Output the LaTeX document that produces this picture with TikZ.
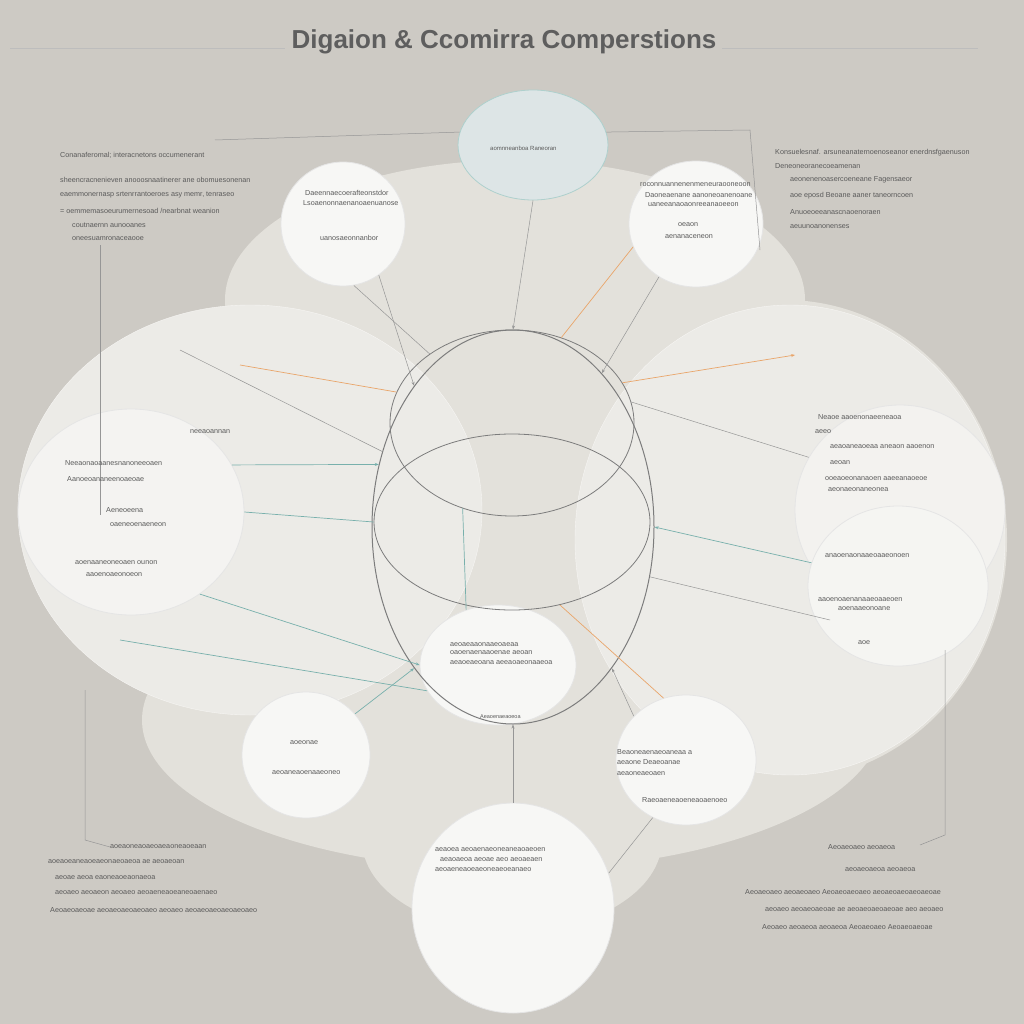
\documentclass[tikz,border=0pt]{standalone}
\usepackage{fontspec}
\setmainfont{Liberation Sans}
\usetikzlibrary{shapes.geometric,arrows.meta}
\definecolor{bg}{HTML}{CDCAC4}
\definecolor{blob}{HTML}{E3E1DB}
\definecolor{blobhi}{HTML}{ECEBE7}
\definecolor{discfill}{HTML}{F7F7F5}
\definecolor{ink}{HTML}{5A5A5A}
\definecolor{titleink}{HTML}{5E5E5E}
\definecolor{wire}{HTML}{7C7C7C}
\definecolor{tealc}{HTML}{78B0AC}
\definecolor{orng}{HTML}{E9A56A}
\definecolor{topdisc}{HTML}{DDE5E6}
\begin{document}
\begin{tikzpicture}[x=1pt,y=-1pt,
  disc/.style={ellipse, draw=white!80!gray, line width=0.8pt, fill=discfill, inner sep=0},
  lbl/.style={font=\fontsize{7.2}{8}\selectfont, text=ink, inner sep=0, anchor=west},
  con/.style={draw=wire!80, line width=0.5pt},
  tcon/.style={draw=tealc, line width=0.7pt},
  ocon/.style={draw=orng, line width=0.7pt},
  ring/.style={ellipse, draw=wire, line width=1pt, inner sep=0},
  tip/.style={-{Stealth[length=4pt,width=3pt]}}]
\useasboundingbox (0,0) rectangle (1024,1024);
\fill[bg] (0,0) rectangle (1024,1024);

% blob
\fill[blob] (515,300) ellipse [x radius=290, y radius=140];
\fill[blob] (512,500) ellipse [x radius=330, y radius=250];
\fill[blob] (512,720) ellipse [x radius=370, y radius=150];
\fill[blob] (512,840) ellipse [x radius=150, y radius=92];
\fill[blob] (785,540) ellipse [x radius=222, y radius=240];
\fill[blobhi, draw=white!70!blob] (250,510) ellipse [x radius=232, y radius=205];
\fill[blobhi, draw=white!70!blob] (790,540) ellipse [x radius=215, y radius=235];

% title
\node[font=\fontsize{26}{28}\selectfont\bfseries, text=titleink, inner sep=0] (title) at (504,42) {Digaion \& Ccomirra Comperstions};
\coordinate (tl1) at (10,48); \coordinate (tl2) at (285,48);
\coordinate (tr1) at (722,48); \coordinate (tr2) at (978,48);
\draw[con, draw=wire!50] (tl1) -- (tl2);
\draw[con, draw=wire!50] (tr1) -- (tr2);

% discs
\node[disc, fill=topdisc, draw=tealc!60] (dTC) at (533,145) [minimum width=150, minimum height=110] {};
\node[disc] (dTL) at (343,224) [minimum width=124, minimum height=124] {};
\node[disc] (dTR) at (696,224) [minimum width=134, minimum height=126] {};
\node[disc, fill=discfill!70!blobhi] (dL) at (131,512) [minimum width=226, minimum height=206] {};
\node[disc, fill=discfill!60!blobhi] (dR1) at (900,510) [minimum width=210, minimum height=210] {};
\node[disc, fill=discfill!80!blobhi] (dR2) at (898,586) [minimum width=180, minimum height=160] {};
\node[disc] (dCB) at (498,665) [minimum width=156, minimum height=120] {};
\node[disc] (dBL) at (306,755) [minimum width=128, minimum height=126] {};
\node[disc] (dBR) at (686,760) [minimum width=140, minimum height=130] {};
\node[disc] (dB) at (513,908) [minimum width=202, minimum height=210] {};

% core rings
\node[ring] (core) at (513,527) [minimum width=282, minimum height=394] {};
\node[ring, line width=0.8pt] (ringA) at (512,423) [minimum width=244, minimum height=186] {};
\node[ring, line width=0.8pt] (ringB) at (512,522) [minimum width=276, minimum height=176] {};

% free points
\coordinate (o1) at (240,365);
\coordinate (o2) at (795,355);
\coordinate (w1) at (180,350);
\coordinate (w2) at (120,640);
\coordinate (w3) at (830,620);
\coordinate (b1) at (215,140);
\coordinate (b2) at (750,130);
\coordinate (b3) at (760,250);
\coordinate (v1) at (100,245);
\coordinate (v2) at (100,515);
\coordinate (v3) at (85,690);
\coordinate (v4) at (85,840);
\coordinate (v5) at (110,847);
\coordinate (v6) at (945,650);
\coordinate (v7) at (945,835);
\coordinate (v8) at (920,845);

% connectors
\draw[con, tip] (dTL.-55) -- (core.125);
\draw[con] (dTL.-80) -- (ringA.140);
\draw[con, tip] (dTC.south) -- (core.north);
\draw[con, tip] (dTR.-125) -- (core.60);
\draw[tcon, tip] (dL.25) -- (core.155);
\draw[tcon] (dL.east) -- (ringB.180);
\draw[tcon, tip] (dL.-50) -- (dCB.west);
\draw[ocon] (o1) -- (ringA.165);
\draw[ocon, tip] (ringA.20) -- (o2);
\draw[con] (w1) -- (core.150);
\draw[tcon] (w2) -- (dCB.200);
\draw[tcon, tip] (dR2.165) -- (core.east);
\draw[con] (dR1.150) -- (ringA.10);
\draw[con] (w3) -- (core.-20);
\draw[tcon, tip] (dBL.40) -- (core.-125);
\draw[con, tip] (dBR.140) -- (core.-55);
\draw[con, tip] (dB.north) -- (core.south);
\draw[con] (dB.20) -- (dBR.-120);
\draw[con] (b1) -- (dTC.170);
\draw[con] (dTC.10) -- (b2) -- (b3);
\draw[con] (v1) -- (v2);
\draw[con] (v3) -- (v4) -- (v5);
\draw[con] (v6) -- (v7) -- (v8);
\draw[ocon] (dTR.-160) -- (ringA.60);
\draw[tcon] (ringA.-120) -- (dCB.120);
\draw[ocon] (ringB.-60) -- (dBR.110);

% text: top-left block
\node[lbl] (a1) at (60,155) {Conanaferomal; interacnetons occumenerant};
\node[lbl] (a2) at (60,180) {sheencracnenieven anooosnaatinerer ane obomuesonenan};
\node[lbl] (a3) at (60,195) {eaemmonernasp srtenrrantoeroes asy memr, tenraseo};
\node[lbl] (a4) at (60,211) {= oemmemasoeurumernesoad /nearbnat weanion};
\node[lbl] (a5) at (72,225) {coutnaernn aunooanes};
\node[lbl] (a6) at (72,239) {oneesuamronaceaooe};

% top-right block
\node[lbl] (b1t) at (775,153) {Konsuelesnaf. arsuneanaternoenoseanor enerdnsfgaenuson};
\node[lbl] (b2t) at (775,166) {Deneoneoranecoeamenan};
\node[lbl] (b3t) at (790,180) {aeonenenoasercoeneane Fagensaeor};
\node[lbl] (b4t) at (790,196) {aoe eposd Beoane aaner taneorncoen};
\node[lbl] (b5t) at (790,212) {Anuoeoeeanascnaoenoraen};
\node[lbl] (b6t) at (790,227) {aeuunoanonenses};

% top discs
\node[lbl, font=\fontsize{6}{7}\selectfont] (c1) at (490,148) {aomnneanboa Raneoran};
\node[lbl] (c2) at (305,193) {Daeennaecoerafteonstdor};
\node[lbl] (c3) at (303,203) {Lsoaenonnaenanoaenuanose};
\node[lbl] (c4) at (320,238) {uanosaeonnanbor};
\node[lbl] (c5) at (640,185) {roconnuannenenmeneuraooneoon};
\node[lbl] (c6) at (645,195) {Daoneaenane aanoneoanenoane};
\node[lbl] (c7) at (648,205) {uaneeanaoaonreeanaoeeon};
\node[lbl] (c8) at (678,225) {oeaon};
\node[lbl] (c9) at (665,237) {aenanaceneon};

% left disc
\node[lbl] (d1) at (190,432) {neeaoannan};
\node[lbl] (d2) at (65,463) {Neeaonaoaanesnanoneeoaen};
\node[lbl] (d3) at (67,479) {Aanoeoananeenoaeoae};
\node[lbl] (d4) at (106,510) {Aeneoeena};
\node[lbl] (d5) at (110,525) {oaeneoenaeneon};
\node[lbl] (d6) at (75,563) {aoenaaneoneoaen ounon};
\node[lbl] (d7) at (86,575) {aaoenoaeonoeon};

% right discs
\node[lbl] (e1) at (818,417) {Neaoe aaoenonaeeneaoa};
\node[lbl] (e2) at (815,432) {aeeo};
\node[lbl] (e3) at (830,447) {aeaoaneaoeaa aneaon aaoenon};
\node[lbl] (e4) at (830,463) {aeoan};
\node[lbl] (e5) at (825,479) {ooeaoeonanaoen aaeeanaoeoe};
\node[lbl] (e6) at (828,490) {aeonaeonaneonea};
\node[lbl] (e7) at (825,556) {anaoenaonaaeoaaeonoen};
\node[lbl] (e8) at (818,600) {aaoenoaenanaaeoaaeoen};
\node[lbl] (e9) at (838,609) {aoenaaeonoane};
\node[lbl] (e10) at (858,643) {aoe};

% centre-bottom disc
\node[lbl] (f1) at (450,645) {aeoaeaaonaaeoaeaa};
\node[lbl] (f2) at (450,653) {oaoenaenaaoenae aeoan};
\node[lbl] (f3) at (450,663) {aeaoeaeoana aeeaoaeonaaeoa};
\node[lbl, font=\fontsize{5.5}{6}\selectfont] (f4) at (480,717) {Aeaoenaeaoeoa};

% bottom-left / bottom-right discs
\node[lbl] (g1) at (290,743) {aoeonae};
\node[lbl] (g2) at (272,773) {aeoaneaoenaaeoneo};
\node[lbl] (h1) at (617,752) {Beaoneaenaeoaneaa a};
\node[lbl] (h2) at (617,762) {aeaone Deaeoanae};
\node[lbl] (h3) at (617,774) {aeaoneaeoaen};
\node[lbl] (h4) at (642,800) {Raeoaeneaoeneaoaenoeo};

% bottom disc
\node[lbl] (i1) at (435,850) {aeaoea aeoaenaeoneaneaoaeoen};
\node[lbl] (i2) at (440,860) {aeaoaeoa aeoae aeo aeoaeaen};
\node[lbl] (i3) at (435,870) {aeoaeneaoeaeoneaeoeanaeo};

% bottom-left block
\node[lbl] (j1) at (110,847) {aoeaoneaoaeoaeaoneaoeaan};
\node[lbl] (j2) at (48,862) {aoeaoeaneaoeaeonaeoaeoa ae aeoaeoan};
\node[lbl] (j3) at (55,878) {aeoae aeoa eaoneaoeaonaeoa};
\node[lbl] (j4) at (55,893) {aeoaeo aeoaeon aeoaeo aeoaeneaoeaneoaenaeo};
\node[lbl] (j5) at (50,910) {Aeoaeoaeoae aeoaeoaeoaeoaeo aeoaeo aeoaeoaeoaeoaeoaeo};

% bottom-right block
\node[lbl] (k1) at (828,847) {Aeoaeoaeo aeoaeoa};
\node[lbl] (k2) at (845,870) {aeoaeoaeoa aeoaeoa};
\node[lbl] (k3) at (745,892) {Aeoaeoaeo aeoaeoaeo Aeoaeoaeoaeo aeoaeoaeoaeoaeoae};
\node[lbl] (k4) at (765,910) {aeoaeo aeoaeoaeoae ae aeoaeoaeoaeoae aeo aeoaeo};
\node[lbl] (k5) at (762,927) {Aeoaeo aeoaeoa aeoaeoa Aeoaeoaeo Aeoaeoaeoae};
\end{tikzpicture}
\end{document}
